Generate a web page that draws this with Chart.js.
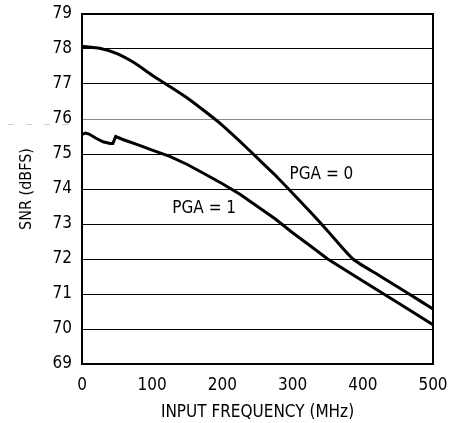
<!DOCTYPE html>
<html>
<head>
<meta charset="utf-8">
<script src="https://cdn.jsdelivr.net/npm/chart.js@4"></script>
<style>
  html, body { margin: 0; padding: 0; background: #fff; }
  #wrap { width: 456px; height: 423px; }
</style>
</head>
<body>
<div id="wrap"><canvas id="c" width="456" height="423"></canvas></div>
<script>
// values
const freqPga0 = [0, 25, 50, 75, 100, 125, 150, 175, 200, 225, 250, 275, 300, 325, 350, 386, 425, 462, 500];
const snrPga0 = [78.08, 78.02, 77.87, 77.6, 77.25, 76.93, 76.6, 76.22, 75.82, 75.36, 74.88, 74.4, 73.88, 73.35, 72.8, 72.0, 71.51, 71.05, 70.57];

const freqPga1 = [0, 5, 10, 20, 30, 40, 44, 48, 60, 80, 100, 125, 150, 175, 200, 225, 250, 275, 300, 325, 350, 400, 450, 500];
const snrPga1 = [75.56, 75.6, 75.57, 75.45, 75.35, 75.3, 75.3, 75.5, 75.4, 75.26, 75.11, 74.93, 74.7, 74.43, 74.15, 73.85, 73.5, 73.15, 72.75, 72.38, 72.0, 71.37, 70.75, 70.12];

const xTicks = [0, 100, 200, 300, 400, 500];
const yTicks = [69, 70, 71, 72, 73, 74, 75, 76, 77, 78, 79];

const curveLabels = ['PGA = 0', 'PGA = 1'];
const labelFreq = [341, 174];
const labelSnr = [74.4, 73.45];

const FONT = '"DejaVu Sans Condensed", "Liberation Sans", sans-serif';
const FSIZE = 17;

const toPoints = (xs, ys) => xs.map((x, i) => ({ x, y: ys[i] }));

const framePlugin = {
  id: 'frame',
  afterDraw(chart) {
    const { ctx, chartArea: a, scales } = chart;
    ctx.save();
    // faint dashed scan artifact left of the axis
    ctx.strokeStyle = '#d0d0d0';
    ctx.lineWidth = 1;
    ctx.setLineDash([6, 12]);
    ctx.beginPath();
    ctx.moveTo(8, 124.5);
    ctx.lineTo(a.left - 2, 124.5);
    ctx.stroke();
    ctx.setLineDash([]);
    // plot frame
    ctx.strokeStyle = '#000';
    ctx.lineWidth = 2;
    ctx.strokeRect(a.left, a.top, a.right - a.left, a.bottom - a.top);
    // curve labels
    ctx.fillStyle = '#000';
    ctx.font = FSIZE + 'px ' + FONT;
    ctx.textAlign = 'center';
    ctx.textBaseline = 'middle';
    curveLabels.forEach((t, i) => {
      ctx.fillText(t, scales.x.getPixelForValue(labelFreq[i]), scales.y.getPixelForValue(labelSnr[i]));
    });
    ctx.restore();
  }
};

new Chart(document.getElementById('c').getContext('2d'), {
  type: 'line',
  data: {
    datasets: [
      { label: curveLabels[0], data: toPoints(freqPga0, snrPga0), borderColor: '#000', borderWidth: 3, pointRadius: 0, tension: 0.2 },
      { label: curveLabels[1], data: toPoints(freqPga1, snrPga1), borderColor: '#000', borderWidth: 3, pointRadius: 0, tension: 0 }
    ]
  },
  options: {
    responsive: false,
    animation: false,
    layout: { padding: { top: 14, right: 23, left: 0, bottom: 0 } },
    plugins: { legend: { display: false }, tooltip: { enabled: false } },
    scales: {
      x: {
        type: 'linear', min: 0, max: 500,
        afterBuildTicks: s => { s.ticks = xTicks.map(v => ({ value: v })); },
        afterFit: s => { s.height = 59; s.paddingLeft = 0; s.paddingRight = 0; },
        grid: { display: false, drawTicks: false },
        border: { display: false },
        ticks: { color: '#000', font: { family: FONT, size: FSIZE }, padding: 11, maxRotation: 0 },
        title: { display: true, text: 'INPUT FREQUENCY (MHz)', color: '#000', font: { family: FONT, size: FSIZE }, padding: { top: 2, bottom: 0 } }
      },
      y: {
        type: 'linear', min: 69, max: 79,
        afterBuildTicks: s => { s.ticks = yTicks.map(v => ({ value: v })); },
        afterFit: s => { s.width = 82; s.paddingTop = 0; s.paddingBottom = 0; },
        grid: { drawTicks: false, lineWidth: 1, color: c => (c.tick && c.tick.value === 76 ? '#8a8a8a' : '#000') },
        border: { display: false },
        ticks: { color: '#000', font: { family: FONT, size: FSIZE }, padding: 10 },
        title: { display: true, text: 'SNR (dBFS)', color: '#000', font: { family: FONT, size: 16 }, padding: { top: 17, bottom: 0 } }
      }
    }
  },
  plugins: [framePlugin]
});
</script>
</body>
</html>
